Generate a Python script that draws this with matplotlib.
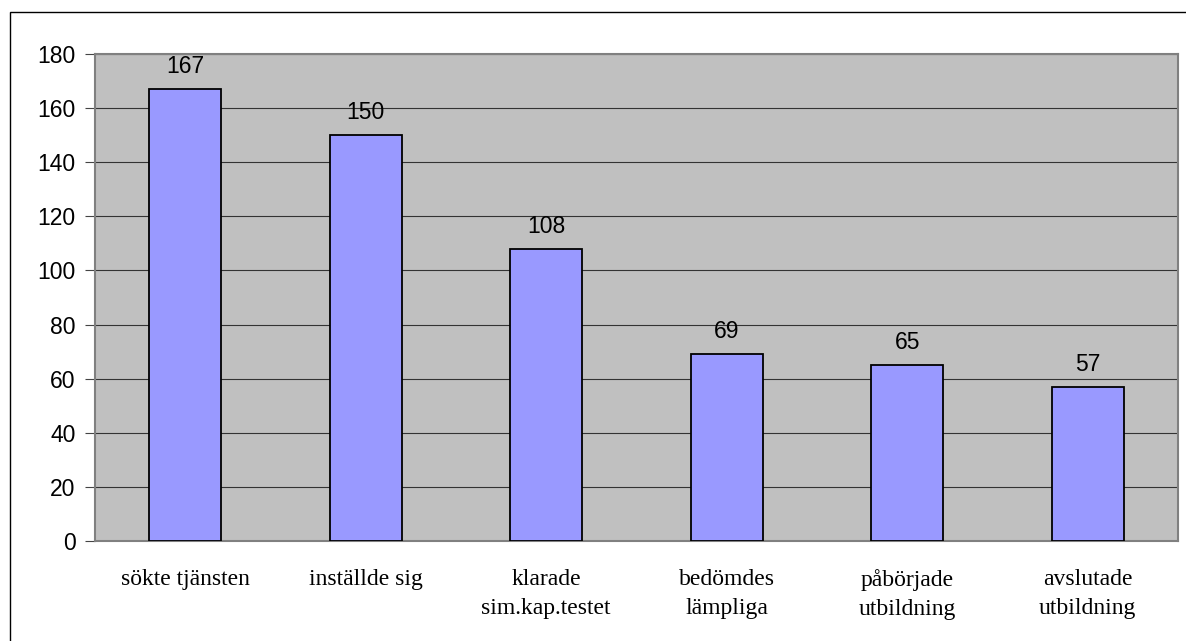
import matplotlib
matplotlib.use("Agg")
import matplotlib.pyplot as plt
from matplotlib.patches import Rectangle

categories = ["sökte tjänsten", "inställde sig", "klarade\nsim.kap.testet",
              "bedömdes\nlämpliga", "påbörjade\nutbildning", "avslutade\nutbildning"]
values = [167, 150, 108, 69, 65, 57]
yticks = [0, 20, 40, 60, 80, 100, 120, 140, 160, 180]

W, H = 1186, 641
fig = plt.figure(figsize=(W / 100, H / 100), dpi=100)
fig.patch.set_facecolor("white")

# outer chart border (extends past right/bottom edges)
fig.patches.append(Rectangle((10 / W, -0.05), 1.1, 1 - 12 / H + 0.05,
                             transform=fig.transFigure, fill=False,
                             edgecolor="black", linewidth=1.0))

ax = fig.add_axes([95 / W, 1 - 541 / H, (1178 - 95) / W, (541 - 54) / H])
ax.set_facecolor("#C0C0C0")
x = list(range(len(categories)))
ax.bar(x, values, width=0.40, color="#9999FF", edgecolor="black", linewidth=1.3, zorder=3)
ax.set_xlim(-0.5, len(categories) - 0.5)
ax.set_ylim(0, 180)
ax.set_yticks(yticks)
ax.set_yticklabels([str(t) for t in yticks], fontfamily="Liberation Sans", fontsize=16.5)
ax.yaxis.grid(True, color="#333333", linewidth=0.8, zorder=1)
ax.set_axisbelow(True)
ax.tick_params(axis="y", length=7, width=0.8, color="#444444", pad=7)
ax.set_xticks(x)
ax.set_xticklabels(categories, fontfamily="Liberation Serif", fontsize=17, linespacing=1.5)
ax.tick_params(axis="x", length=0, pad=20)
for s in ax.spines.values():
    s.set_color("#808080")
    s.set_linewidth(1.5)

for xi, v in zip(x, values):
    ax.annotate(str(v), (xi, v), xytext=(0, 8), textcoords="offset points",
                ha="center", va="bottom", fontfamily="Liberation Sans", fontsize=16.5)

fig.savefig("out.png", dpi=100)
